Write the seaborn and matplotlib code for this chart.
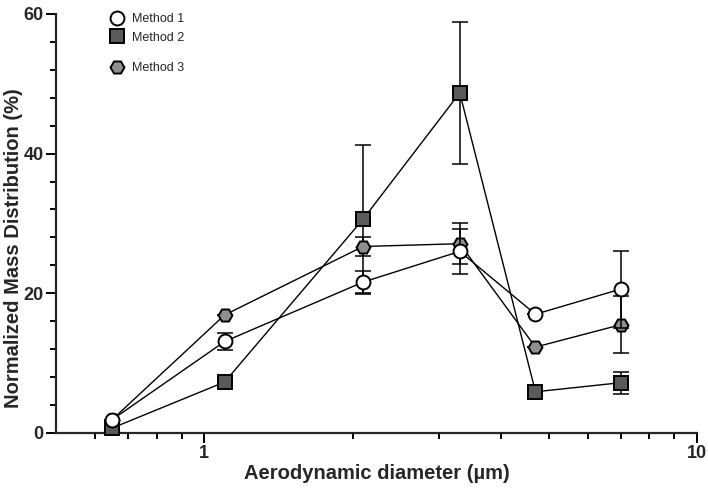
import numpy as np
import pandas as pd
import seaborn as sns
import matplotlib
matplotlib.use("Agg")
import matplotlib.pyplot as plt
from matplotlib.ticker import FixedLocator, NullFormatter, MultipleLocator

# stage diameters (um) and normalized mass distribution (%)
diameter = [0.65, 1.1, 2.1, 3.3, 4.7, 7.0]
method1 = [1.9, 13.1, 21.6, 26.0, 17.0, 20.6]
method1_err = [0.0, 1.25, 1.6, 3.2, 0.0, 5.5]
method2 = [0.7, 7.3, 30.6, 48.7, 5.9, 7.2]
method2_err = [0.0, 0.0, 10.7, 10.2, 0.0, 1.6]
method3 = [1.9, 16.9, 26.7, 27.1, 12.3, 15.5]
method3_err = [0.0, 0.0, 1.3, 2.9, 0.0, 4.1]

sns.set_style("ticks")
plt.rcParams["font.family"] = ["Liberation Sans", "DejaVu Sans"]

fig, ax = plt.subplots(figsize=(7.08, 4.97), dpi=100)
fig.subplots_adjust(left=0.079, right=0.9845, bottom=0.1288, top=0.972)

# draw order: squares, hexagons, circles on top
series = [
    ("Method 2", method2, method2_err, "s", "#5a5a5a", 3),
    ("Method 3", method3, method3_err, "H", "#8f8f8f", 4),
    ("Method 1", method1, method1_err, "o", "white", 5),
]
handles = {}
for name, vals, err, mk, fc, z in series:
    df = pd.DataFrame({"d": diameter, "v": vals})
    ax.errorbar(diameter, vals, yerr=err, fmt="none", ecolor="black",
                elinewidth=1.1, capsize=6, capthick=1.1, zorder=z - 0.5,
                clip_on=False)
    sns.lineplot(data=df, x="d", y="v", ax=ax, color="black", linewidth=1.0,
                 marker=mk, markersize=10, markerfacecolor=fc,
                 markeredgecolor="black", markeredgewidth=1.4,
                 zorder=z, clip_on=False)
    handles[name] = ax.lines[-1]

ax.set_xscale("log")
ax.set_xlim(0.5, 10)
ax.set_ylim(0, 60)

ax.xaxis.set_major_locator(FixedLocator([1, 10]))
ax.set_xticklabels(["1", "10"])
ax.xaxis.set_minor_locator(FixedLocator([0.6, 0.7, 0.8, 0.9, 2, 3, 4, 5, 6, 7, 8, 9]))
ax.xaxis.set_minor_formatter(NullFormatter())
ax.yaxis.set_major_locator(MultipleLocator(20))
ax.yaxis.set_minor_locator(MultipleLocator(4))

sns.despine(ax=ax)
for s in ["left", "bottom"]:
    ax.spines[s].set_linewidth(1.6)
ax.tick_params(axis="both", which="major", length=7, width=1.4, pad=2,
               labelsize=13, color="black")
ax.tick_params(axis="both", which="minor", length=4, width=1.4, color="black")
for lab in ax.get_xticklabels() + ax.get_yticklabels():
    lab.set_fontweight("bold")

ax.set_xlabel("Aerodynamic diameter (\u00b5m)", fontsize=14.5, fontweight="bold")
ax.set_ylabel("Normalized Mass Distribution (%)", fontsize=14.5, fontweight="bold")
ax.xaxis.set_label_coords(0.5, -0.075)
ax.yaxis.set_label_coords(-0.052, 0.44)

leg_kw = dict(frameon=False, fontsize=9, handlelength=1.2, handletextpad=0.6,
              borderaxespad=0, borderpad=0.4, loc="center left")
leg1 = ax.legend([handles["Method 1"], handles["Method 2"]], ["Method 1", "Method 2"],
                 bbox_to_anchor=(0.0757, 0.9654), labelspacing=0.55, **leg_kw)
for h in leg1.legend_handles:
    h.set_linestyle("none")
ax.add_artist(leg1)
leg2 = ax.legend([handles["Method 3"]], ["Method 3"],
                 bbox_to_anchor=(0.0757, 0.871), **leg_kw)
for h in leg2.legend_handles:
    h.set_linestyle("none")

fig.savefig("out.png", dpi=100)
